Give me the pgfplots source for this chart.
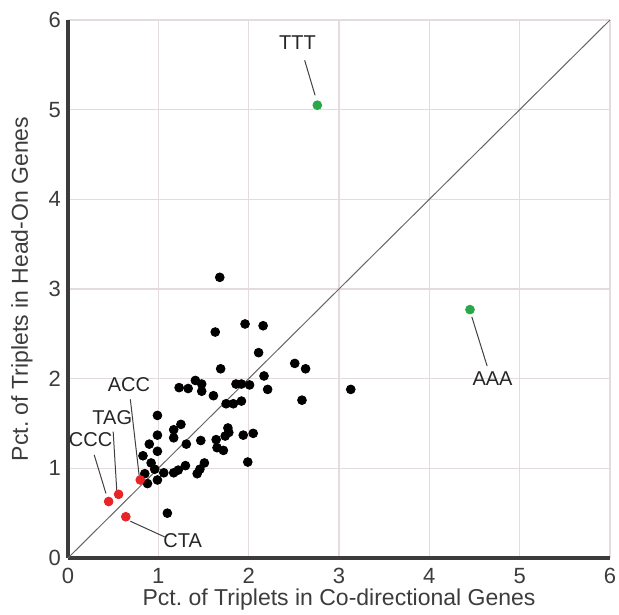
\documentclass[border=0pt]{standalone}
\usepackage{fontspec}
\setmainfont{Liberation Sans}
\usepackage{pgfplots}
\pgfplotsset{compat=1.18}

\definecolor{ptred}{RGB}{232,36,40}
\definecolor{ptgreen}{RGB}{40,168,72}
\definecolor{gridc}{RGB}{228,220,220}
\definecolor{axc}{RGB}{60,60,60}

\begin{document}
\begin{tikzpicture}
  \begin{axis}[scale only axis,width=271pt,height=269pt,
      xmin=0,xmax=6,ymin=0,ymax=6,
      xtick={0,...,6},ytick={0,...,6},
      axis x line*=bottom,axis y line*=left,
      axis line style={line width=1.6pt,color=axc,-},
      tick style={draw=none},
      grid=major,grid style={gridc,line width=0.6pt},
      /pgf/number format/assume math mode=true,
      tick label style={font=\fontsize{11}{13}\selectfont,text=axc},
      xticklabel style={yshift=-1.5pt},
      yticklabel style={xshift=0pt},
      label style={font=\fontsize{11.5}{13}\selectfont,text=axc},
      xlabel={Pct.\ of Triplets in Co-directional Genes},
      ylabel={Pct.\ of Triplets in Head-On Genes},
      xlabel style={at={(axis description cs:0.5,-0.0892)},anchor=base},
      ylabel style={at={(axis description cs:-0.085,0.5)},anchor=center},
      clip=false]
    \addplot[gray!80!black,line width=0.5pt] coordinates {(0,0) (6,6)};
    \addplot[only marks,mark=*,mark size=2.2pt,black] coordinates {
      (1.68,3.13) (1.96,2.61) (2.16,2.59) (1.63,2.52) (2.11,2.29)
      (1.69,2.11) (2.51,2.17) (2.63,2.11) (2.17,2.03) (1.41,1.98)
      (1.48,1.94) (1.48,1.86) (1.23,1.90) (1.33,1.89) (1.61,1.81)
      (1.86,1.94) (1.92,1.94) (2.01,1.93) (2.21,1.88) (3.13,1.88)
      (2.59,1.76) (1.75,1.72) (1.83,1.72) (1.92,1.75) (0.99,1.59)
      (1.17,1.43) (1.25,1.49) (1.17,1.34) (0.99,1.37) (0.90,1.27)
      (0.99,1.19) (1.31,1.27) (1.47,1.31) (1.64,1.32) (1.65,1.23)
      (1.72,1.20) (1.74,1.36) (1.77,1.45) (1.78,1.40) (1.94,1.37)
      (2.05,1.39) (1.99,1.07) (0.83,1.14) (0.92,1.06) (0.96,0.99)
      (0.85,0.94) (0.88,0.83) (0.99,0.87) (1.06,0.95) (1.17,0.95)
      (1.22,0.98) (1.30,1.03) (1.43,0.94) (1.46,0.99) (1.51,1.06)
      (1.10,0.50)};
    \addplot[only marks,mark=*,mark size=2.2pt,ptred] coordinates {
      (0.45,0.63) (0.56,0.71) (0.80,0.87) (0.64,0.46)};
    \addplot[only marks,mark=*,mark size=2.2pt,ptgreen] coordinates {
      (2.76,5.05) (4.45,2.77)};
    % labels with leader lines
    \begin{scope}[every node/.style={font=\fontsize{10}{12}\selectfont,text=black!85}]
      \node at (axis cs:2.54,5.75) {TTT};
      \draw[black!75,line width=0.5pt] (axis cs:2.62,5.55) -- (axis cs:2.735,5.16);
      \node at (axis cs:4.70,2.00) {AAA};
      \draw[black!75,line width=0.5pt] (axis cs:4.47,2.69) -- (axis cs:4.64,2.14);
      \node at (axis cs:1.27,0.19) {CTA};
      \draw[black!75,line width=0.5pt] (axis cs:0.69,0.41) -- (axis cs:1.07,0.235);
      \node at (axis cs:0.25,1.32) {CCC};
      \draw[black!75,line width=0.5pt] (axis cs:0.29,1.15) -- (axis cs:0.42,0.72);
      \node at (axis cs:0.49,1.56) {TAG};
      \draw[black!75,line width=0.5pt] (axis cs:0.50,1.41) -- (axis cs:0.54,0.75);
      \node at (axis cs:0.675,1.93) {ACC};
      \draw[black!75,line width=0.5pt] (axis cs:0.69,1.77) -- (axis cs:0.79,0.90);
    \end{scope}
    \coordinate (bl) at (rel axis cs:0,0);
    \coordinate (tr) at (rel axis cs:1,1);
  \end{axis}
  \pgfresetboundingbox
  \path[use as bounding box] ([shift={(-34pt,-28.5pt)}]bl) rectangle ([shift={(4.5pt,10pt)}]tr);
\end{tikzpicture}
\end{document}
